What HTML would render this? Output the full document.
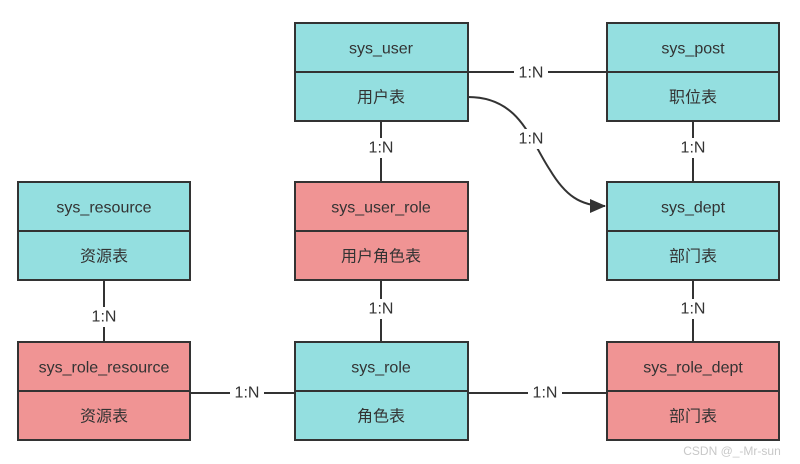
<!DOCTYPE html>
<html><head><meta charset="utf-8"><style>
html,body{margin:0;padding:0;background:#fff;}
svg{display:block;}
text{font-family:"Liberation Sans","Noto Sans CJK SC",sans-serif;font-size:16px;fill:#333;text-anchor:middle;dominant-baseline:central;}
.t{fill:#94dfe0;stroke:#333;stroke-width:2;}
.r{fill:#f09494;stroke:#333;stroke-width:2;}
.l{stroke:#333;stroke-width:2;fill:none;}
</style></head><body>
<svg width="800" height="464" viewBox="0 0 800 464">
<defs><marker id="a" markerWidth="16" markerHeight="14" refX="15" refY="7" orient="auto" markerUnits="userSpaceOnUse"><path d="M0,0 L16,7 L0,14 z" fill="#333"/></marker></defs>
<line class="l" x1="468" y1="72" x2="607" y2="72"/>
<path class="l" d="M468,97 C520,97 530,140 550,170 C565,195 580,206 605,206" marker-end="url(#a)"/>
<line class="l" x1="381" y1="121" x2="381" y2="182"/>
<line class="l" x1="693" y1="121" x2="693" y2="182"/>
<line class="l" x1="104" y1="280" x2="104" y2="342"/>
<line class="l" x1="381" y1="280" x2="381" y2="342"/>
<line class="l" x1="693" y1="280" x2="693" y2="342"/>
<line class="l" x1="190" y1="393" x2="295" y2="393"/>
<line class="l" x1="468" y1="393" x2="607" y2="393"/>
<g transform="translate(0,1)">
<rect x="514" y="62" width="34" height="20" fill="#fff"/><text x="531" y="72">1:N</text>
<rect x="514" y="128" width="34" height="20" fill="#fff"/><text x="531" y="138">1:N</text>
<rect x="364" y="137" width="34" height="20" fill="#fff"/><text x="381" y="147">1:N</text>
<rect x="676" y="137" width="34" height="20" fill="#fff"/><text x="693" y="147">1:N</text>
<rect x="87" y="306" width="34" height="20" fill="#fff"/><text x="104" y="316">1:N</text>
<rect x="364" y="298" width="34" height="20" fill="#fff"/><text x="381" y="308">1:N</text>
<rect x="676" y="298" width="34" height="20" fill="#fff"/><text x="693" y="308">1:N</text>
<rect x="230" y="382" width="34" height="20" fill="#fff"/><text x="247" y="392">1:N</text>
<rect x="528" y="382" width="34" height="20" fill="#fff"/><text x="545" y="392">1:N</text>
</g>
<g>
<rect class="t" x="295" y="23" width="173" height="98"/><line class="l" x1="295" y1="72" x2="468" y2="72"/>
<text x="381" y="49">sys_user</text><text x="381" y="98">用户表</text>
<rect class="t" x="607" y="23" width="172" height="98"/><line class="l" x1="607" y1="72" x2="779" y2="72"/>
<text x="693" y="49">sys_post</text><text x="693" y="98">职位表</text>
<rect class="t" x="18" y="182" width="172" height="98"/><line class="l" x1="18" y1="231" x2="190" y2="231"/>
<text x="104" y="208">sys_resource</text><text x="104" y="257">资源表</text>
<rect class="r" x="295" y="182" width="173" height="98"/><line class="l" x1="295" y1="231" x2="468" y2="231"/>
<text x="381" y="208">sys_user_role</text><text x="381" y="257">用户角色表</text>
<rect class="t" x="607" y="182" width="172" height="98"/><line class="l" x1="607" y1="231" x2="779" y2="231"/>
<text x="693" y="208">sys_dept</text><text x="693" y="257">部门表</text>
<rect class="r" x="18" y="342" width="172" height="98"/><line class="l" x1="18" y1="391" x2="190" y2="391"/>
<text x="104" y="368">sys_role_resource</text><text x="104" y="417">资源表</text>
<rect class="t" x="295" y="342" width="173" height="98"/><line class="l" x1="295" y1="391" x2="468" y2="391"/>
<text x="381" y="368">sys_role</text><text x="381" y="417">角色表</text>
<rect class="r" x="607" y="342" width="172" height="98"/><line class="l" x1="607" y1="391" x2="779" y2="391"/>
<text x="693" y="368">sys_role_dept</text><text x="693" y="417">部门表</text>
</g>
<text x="732" y="451" style="font-size:12px;fill:#c8c8c8">CSDN @_-Mr-sun</text>
</svg>
</body></html>
